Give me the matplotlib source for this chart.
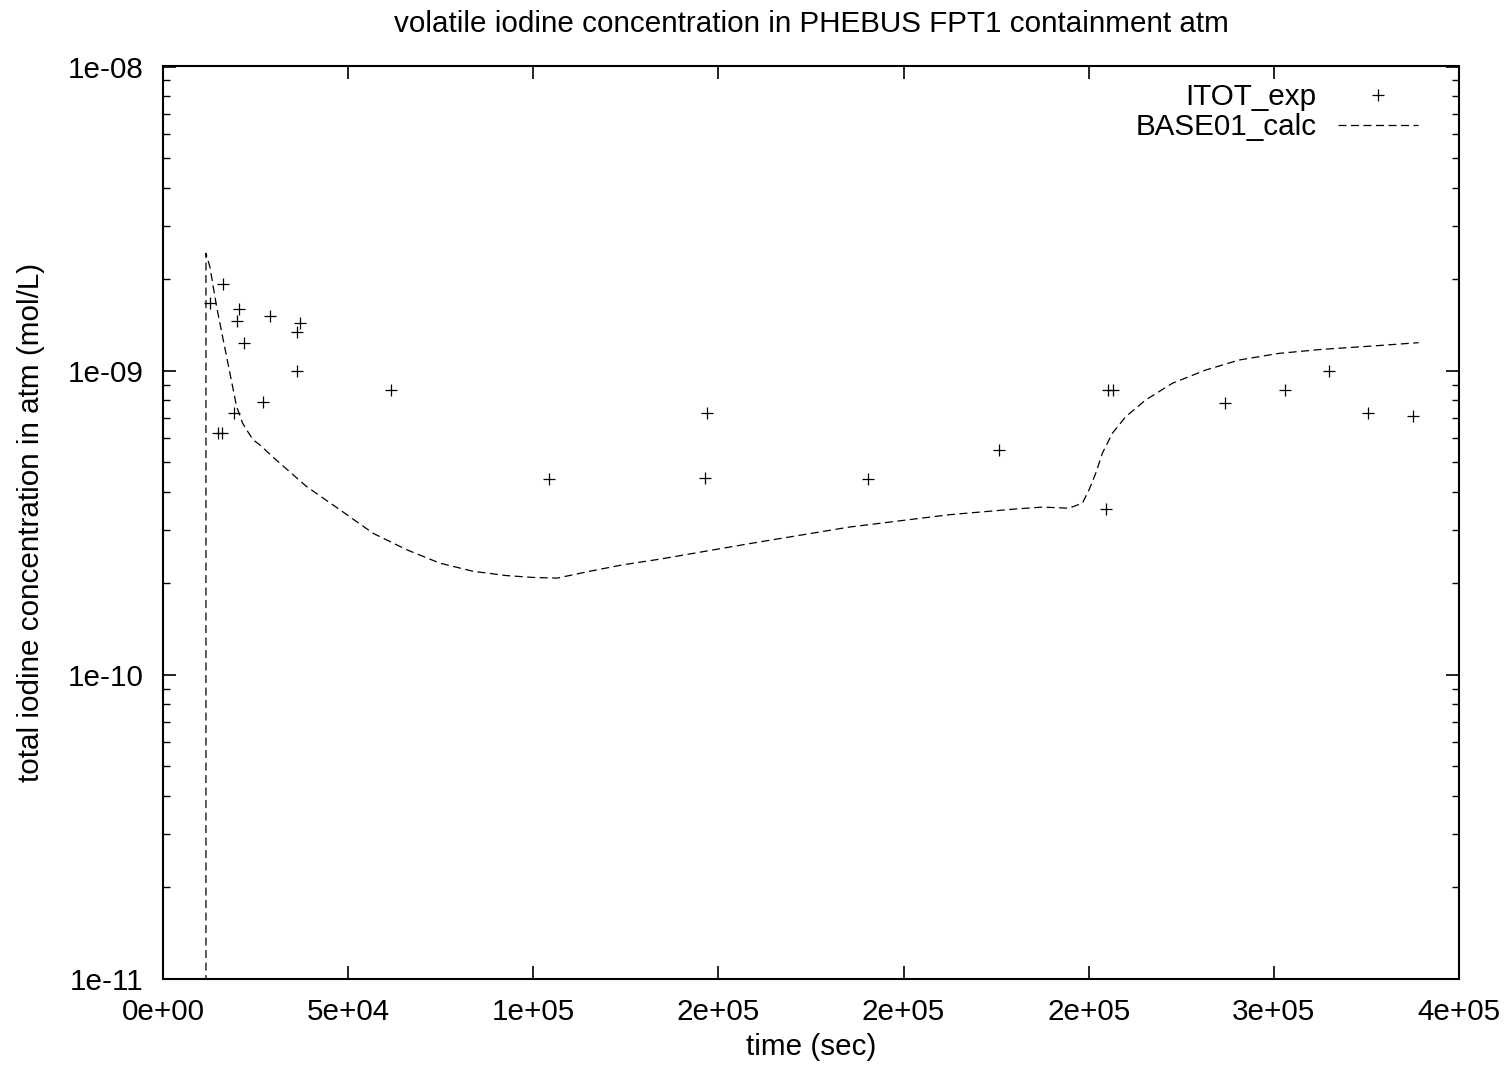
import numpy as np
import matplotlib
matplotlib.use("Agg")
import matplotlib.pyplot as plt
from matplotlib.ticker import LogLocator, NullFormatter, NullLocator

# ---------------- data ----------------
title = "volatile iodine concentration in PHEBUS FPT1 containment atm"
x_label = "time (sec)"
y_label = "total iodine concentration in atm (mol/L)"

x_ticks = [0, 5e4, 1e5, 1.5e5, 2e5, 2.5e5, 3e5, 3.5e5]
x_tick_labels = ["0e+00", "5e+04", "1e+05", "2e+05", "2e+05", "2e+05", "3e+05", "4e+05"]
y_ticks = [1e-11, 1e-10, 1e-9, 1e-8]
y_tick_labels = ["1e-11", "1e-10", "1e-09", "1e-08"]

exp_label = "ITOT_exp"
exp_t = [12680, 14920, 16000, 16270, 19240, 19970, 20500, 21770, 27060, 28870,
         36070, 36070, 36960, 61510, 104230, 146420, 146860, 190300, 225820,
         254780, 255240, 256590, 286720, 302990, 314940, 325300, 337600]
exp_c = [1.67e-9, 6.23e-10, 6.23e-10, 1.93e-9, 7.28e-10, 1.46e-9, 1.59e-9, 1.236e-9,
         7.87e-10, 1.516e-9, 1.343e-9, 1.0e-9, 1.43e-9, 8.64e-10, 4.40e-10, 4.43e-10,
         7.25e-10, 4.40e-10, 5.49e-10, 3.52e-10, 8.64e-10, 8.64e-10, 7.85e-10,
         8.64e-10, 1.0e-9, 7.25e-10, 7.1e-10]

calc_label = "BASE01_calc"
calc_t = [11600, 11600, 12680, 14490, 17190, 19880, 21500, 22580, 24360, 26170,
          29760, 38770, 47760, 56740, 65750, 74730, 83720, 92730, 100000, 106500,
          115200, 124200, 134100, 158400, 185300, 212300, 230300, 237500, 244700, 248300,
          250100, 251900, 253700, 256400, 260000, 265400, 272600, 281600, 290600, 301400,
          313000, 326500, 339100]
calc_c = [5e-12, 2.43e-9, 2.19e-9, 1.62e-9, 1.11e-9, 7.62e-10, 6.72e-10, 6.39e-10, 5.92e-10, 5.70e-10,
          5.19e-10, 4.16e-10, 3.49e-10, 2.92e-10, 2.58e-10, 2.33e-10, 2.19e-10, 2.12e-10, 2.09e-10, 2.08e-10,
          2.19e-10, 2.30e-10, 2.40e-10, 2.70e-10, 3.06e-10, 3.36e-10, 3.51e-10, 3.56e-10, 3.53e-10, 3.67e-10,
          4.06e-10, 4.60e-10, 5.36e-10, 6.23e-10, 7.06e-10, 8.01e-10, 9.09e-10, 1.005e-9, 1.084e-9, 1.14e-9,
          1.175e-9, 1.205e-9, 1.236e-9]

# ---------------- style ----------------
plt.rcParams["font.family"] = ["Liberation Sans", "DejaVu Sans"]
FS = 21.3

W, H = 1505, 1074
L, R, T, B = 163, 1459, 66.5, 979
fig = plt.figure(figsize=(W / 100, H / 100), dpi=100)
ax = fig.add_axes([L / W, 1 - B / H, (R - L) / W, (B - T) / H])

ax.set_yscale("log")
ax.plot(exp_t, exp_c, ls="none", marker="+", ms=9, mew=0.9, color="black",
        label=exp_label)
ax.plot(calc_t, calc_c, color="black", lw=0.9, ls=(0, (6.4, 3.6)),
        label=calc_label)

ax.set_xlim(0, 3.5e5)
ax.set_ylim(1e-11, 1e-8)

ax.set_xticks(x_ticks)
ax.set_xticklabels(x_tick_labels)
ax.xaxis.set_minor_locator(NullLocator())
ax.set_yticks(y_ticks)
ax.set_yticklabels(y_tick_labels)
ax.yaxis.set_minor_locator(LogLocator(base=10, subs=np.arange(2, 10)))
ax.yaxis.set_minor_formatter(NullFormatter())

ax.tick_params(axis="both", which="major", direction="in", length=9.4, width=1.2,
               pad=14, labelsize=FS, top=True, right=True, colors="black")
ax.tick_params(axis="y", which="minor", direction="in", length=4.7, width=1.0,
               left=True, right=True)
for s in ax.spines.values():
    s.set_linewidth(1.5)
    s.set_color("black")

ax.set_title(title, fontsize=FS, pad=24.8)
ax.set_xlabel(x_label, fontsize=FS, labelpad=4.8)
ax.set_ylabel(y_label, fontsize=FS, labelpad=16.3)

leg = ax.legend(loc="upper right", bbox_to_anchor=((1418 - L) / (R - L), 1 - (83 - T) / (B - T)),
                frameon=False, markerfirst=False, fontsize=FS, handlelength=2.71,
                handletextpad=0.72, labelspacing=0.075, borderpad=0, borderaxespad=0,
                numpoints=1)

fig.savefig("out.png", dpi=100)
